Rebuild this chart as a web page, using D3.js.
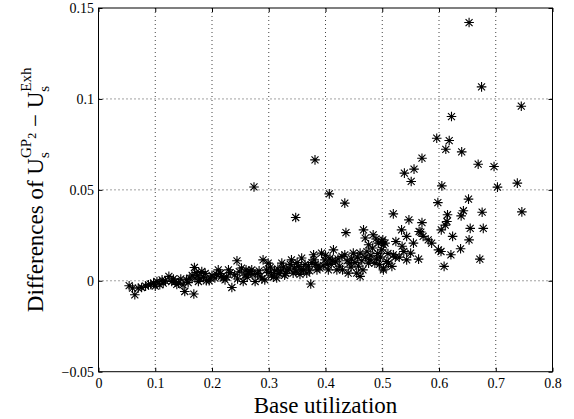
<!DOCTYPE html>
<html>

<head>
  <meta charset="UTF-8">
  <title>Differences vs base utilization</title>
  <style>
    body { margin: 0; background: #fff; }
    svg { display: block; font-family: 'Liberation Serif', 'Times New Roman', serif; }
    .tick line { stroke: #000; }
    .grid line { stroke: #444; stroke-dasharray: 1, 3; }
  </style>
</head>

<body>
  <script src="https://cdn.jsdelivr.net/npm/d3@7"></script>
  <script>
    const width = 574,
      height = 419

    // base utilization (x) and difference (y)
    const utilization = [
      0.054, 0.060, 0.064, 0.070, 0.076, 0.083, 0.088, 0.092, 0.097, 0.103,
      0.108, 0.114, 0.118, 0.124, 0.129, 0.135, 0.141, 0.145, 0.149, 0.152,
      0.155, 0.158, 0.161, 0.168, 0.169, 0.170, 0.175, 0.176, 0.182, 0.185,
      0.190, 0.197, 0.200, 0.205, 0.211, 0.215, 0.217, 0.223, 0.226, 0.229,
      0.235, 0.240, 0.244, 0.245, 0.252, 0.255, 0.258, 0.260, 0.264, 0.267,
      0.270, 0.276, 0.280, 0.285, 0.290, 0.293, 0.299, 0.300, 0.305, 0.310,
      0.314, 0.318, 0.323, 0.328, 0.332, 0.336, 0.340, 0.343, 0.348, 0.352,
      0.355, 0.358, 0.361, 0.367, 0.370, 0.374, 0.376, 0.379, 0.382, 0.385,
      0.390, 0.393, 0.396, 0.399, 0.405, 0.408, 0.410, 0.414, 0.418, 0.420,
      0.425, 0.429, 0.430, 0.434, 0.436, 0.440, 0.443, 0.446, 0.449, 0.452,
      0.455, 0.458, 0.461, 0.461, 0.466, 0.467, 0.470, 0.470, 0.476, 0.476,
      0.480, 0.484, 0.489, 0.487, 0.490, 0.493, 0.495, 0.499, 0.499, 0.501,
      0.502, 0.502, 0.502, 0.505, 0.508, 0.510, 0.511, 0.517, 0.5195, 0.5195,
      0.523, 0.524, 0.530, 0.534, 0.535, 0.538, 0.543, 0.543, 0.547, 0.550,
      0.555, 0.564, 0.565, 0.568, 0.570, 0.572, 0.581, 0.587, 0.599, 0.6035,
      0.604, 0.609, 0.611, 0.614, 0.615, 0.621, 0.624, 0.638, 0.639, 0.643,
      0.653, 0.655, 0.672, 0.678, 0.676, 0.746, 0.598, 0.652, 0.703, 0.738,
      0.605, 0.551, 0.556, 0.539, 0.697, 0.669, 0.570, 0.640, 0.612, 0.618,
      0.596, 0.622, 0.745, 0.675, 0.653, 0.3475, 0.4067, 0.434, 0.274, 0.3815,
      0.100, 0.112, 0.132, 0.138, 0.165, 0.172, 0.179, 0.188, 0.195, 0.208,
      0.220, 0.232, 0.248, 0.262, 0.272, 0.283, 0.288, 0.296, 0.303, 0.308,
      0.316, 0.321, 0.326, 0.330, 0.338, 0.345, 0.350, 0.357, 0.364, 0.372,
      0.380, 0.387, 0.400, 0.403, 0.412, 0.422, 0.438, 0.445, 0.456, 0.464,
      0.473, 0.478, 0.483, 0.492, 0.497
    ]
    const difference = [
      -0.0027, -0.0040, -0.0077, -0.0040, -0.0037, -0.0030, -0.0022, -0.0020, -0.0013, -0.0004,
      -0.0022, -0.0013, 0.0000, 0.0024, -0.0004, -0.0004, -0.0013, 0.0010, -0.0022, -0.0059,
      0.0005, -0.0010, 0.0015, -0.0073, 0.0073, 0.0015, 0.0030, -0.0004, 0.0051, 0.0020,
      0.0000, 0.0015, 0.0030, 0.0015, 0.0060, 0.0040, 0.0024, 0.0005, 0.0020, 0.0060,
      -0.0037, 0.0033, 0.0110, 0.0010, 0.0070, -0.0004, 0.0030, 0.0060, 0.0042, 0.0051,
      0.0060, -0.0004, 0.0040, 0.0025, 0.0115, 0.0005, 0.0097, 0.0045, 0.0030, 0.0055,
      0.0015, 0.0040, 0.0097, 0.0030, 0.0060, 0.0065, 0.0115, 0.0042, 0.0050, 0.0079,
      0.0035, 0.0125, 0.0060, 0.0042, 0.0080, -0.0018, 0.0100, 0.0143, 0.0090, 0.0060,
      0.0070, 0.0152, 0.0085, 0.0115, 0.0060, 0.0125, 0.0090, 0.0170, 0.0105, 0.0060,
      0.0080, 0.0134, 0.0060, 0.0143, 0.0265, 0.0042, 0.0097, 0.0120, 0.0152, 0.0100,
      0.0042, 0.0080, 0.0152, 0.0024, 0.0060, 0.0280, 0.0235, 0.0130, 0.0198, 0.0097,
      0.0140, 0.0253, 0.0230, 0.0097, 0.0120, 0.0207, 0.0090, 0.0170, 0.0216, 0.0225,
      0.0060, 0.0198, 0.0070, 0.0207, 0.0106, 0.0150, 0.0097, 0.0079, 0.0143, 0.0368,
      0.0130, 0.0216, 0.0130, 0.0280, 0.0190, 0.0161, 0.0115, 0.0244, 0.0335, 0.0152,
      0.0207, 0.0119, 0.0271, 0.0268, 0.0320, 0.0244, 0.0225, 0.0207, 0.0170, 0.0161,
      0.0280, 0.0079, 0.0306, 0.0326, 0.0363, 0.0143, 0.0244, 0.0176, 0.0357, 0.0385,
      0.0225, 0.0288, 0.0119, 0.0288, 0.0377, 0.0379, 0.0430, 0.0449, 0.0515, 0.0537,
      0.0522, 0.0546, 0.0614, 0.0592, 0.0628, 0.0641, 0.0674, 0.0709, 0.0723, 0.0771,
      0.0784, 0.0903, 0.0960, 0.1066, 0.1420, 0.0348, 0.0478, 0.0427, 0.0516, 0.0665,
      -0.0030, 0.0005, 0.0010, -0.0020, 0.0030, 0.0045, 0.0010, 0.0040, 0.0000, 0.0035,
      0.0015, 0.0045, 0.0050, 0.0020, 0.0035, 0.0055, 0.0010, 0.0060, 0.0075, 0.0020,
      0.0065, 0.0050, 0.0075, 0.0040, 0.0090, 0.0070, 0.0100, 0.0060, 0.0090, 0.0055,
      0.0115, 0.0080, 0.0140, 0.0090, 0.0110, 0.0120, 0.0110, 0.0075, 0.0130, 0.0110,
      0.0160, 0.0115, 0.0180, 0.0150, 0.0130
    ]

    const xTicks = [0, 0.1, 0.2, 0.3, 0.4, 0.5, 0.6, 0.7, 0.8]
    const xTickLabels = ['0', '0.1', '0.2', '0.3', '0.4', '0.5', '0.6', '0.7', '0.8']
    const yTicks = [-0.05, 0, 0.05, 0.1, 0.15]
    const yTickLabels = ['\u22120.05', '0', '0.05', '0.1', '0.15']

    const plotL = 98.5, plotR = 552.5, plotT = 8, plotB = 371.7

    const svg = d3.select('body')
      .append('svg')
      .attr('width', width)
      .attr('height', height)

    const xScale = d3.scaleLinear()
      .domain([0, 0.8])
      .range([plotL, plotR])

    const yScale = d3.scaleLinear()
      .domain([-0.05, 0.15])
      .range([plotB, plotT])

    // dotted grid
    const grid = svg.append('g').classed('grid', true)
    grid.selectAll('line.gx')
      .data(xTicks.slice(1, -1)).enter()
      .append('line')
      .attr('x1', d => xScale(d)).attr('x2', d => xScale(d))
      .attr('y1', plotT).attr('y2', plotB)
    grid.selectAll('line.gy')
      .data(yTicks.slice(1, -1)).enter()
      .append('line')
      .attr('x1', plotL).attr('x2', plotR)
      .attr('y1', d => yScale(d)).attr('y2', d => yScale(d))

    // axes, ticks pointing inward
    const fmtX = d => xTickLabels[xTicks.indexOf(d)]
    const fmtY = d => yTickLabels[yTicks.indexOf(d)]

    const axes = svg.append('g').classed('axes', true)
    axes.append('g')
      .attr('transform', `translate(0, ${plotB})`)
      .call(d3.axisBottom(xScale).tickValues(xTicks).tickFormat(fmtX)
        .tickSizeInner(-4).tickSizeOuter(0).tickPadding(6.5))
    axes.append('g')
      .attr('transform', `translate(0, ${plotT})`)
      .call(d3.axisTop(xScale).tickValues(xTicks).tickFormat('')
        .tickSizeInner(-4).tickSizeOuter(0))
    axes.append('g')
      .attr('transform', `translate(${plotL}, 0)`)
      .call(d3.axisLeft(yScale).tickValues(yTicks).tickFormat(fmtY)
        .tickSizeInner(-4).tickSizeOuter(0).tickPadding(4.5))
    axes.append('g')
      .attr('transform', `translate(${plotR}, 0)`)
      .call(d3.axisRight(yScale).tickValues(yTicks).tickFormat('')
        .tickSizeInner(-4).tickSizeOuter(0))

    axes.selectAll('.domain').remove()
    axes.selectAll('.tick text')
      .style('font-family', "'Liberation Serif', 'Times New Roman', serif")
      .style('font-size', '14px')
      .style('fill', '#000')

    svg.append('rect')
      .attr('x', plotL).attr('y', plotT)
      .attr('width', plotR - plotL).attr('height', plotB - plotT)
      .attr('fill', 'none').attr('stroke', '#000')

    // asterisk markers
    const r = 4.8, q = 3.5
    const star = `M${-r},0L${r},0M0,${-r}L0,${r}M${-q},${-q}L${q},${q}M${-q},${q}L${q},${-q}`
    const points = utilization.map((u, i) => ({ x: u, y: difference[i] }))

    svg.append('g')
      .selectAll('path')
      .data(points).enter()
      .append('path')
      .attr('d', star)
      .attr('transform', d => `translate(${xScale(d.x)}, ${yScale(d.y)})`)
      .attr('fill', 'none')
      .attr('stroke', '#000')
      .attr('stroke-width', 1.1)

    // axis labels
    svg.append('text')
      .attr('x', (plotL + plotR) / 2)
      .attr('y', 413)
      .attr('text-anchor', 'middle')
      .attr('font-size', 23)
      .text('Base utilization')

    const yl = svg.append('text')
      .attr('transform', `translate(43, ${(plotT + plotB) / 2}) rotate(-90)`)
      .attr('text-anchor', 'middle')
      .attr('font-size', 23)

    yl.append('tspan').text('Differences of U')
    const s1 = yl.append('tspan').attr('font-size', 15).attr('dy', 6).text('s')
    const sw = s1.node().getComputedTextLength()
    yl.append('tspan').attr('font-size', 15).attr('dx', -sw).attr('dy', -18).text('GP')
    yl.append('tspan').attr('font-size', 12).attr('dy', 5).text('2')
    yl.append('tspan').attr('dy', 7).text(' \u2212 U')
    yl.append('tspan').attr('font-size', 15).attr('dy', 6).text('s')
    yl.append('tspan').attr('font-size', 15).attr('dx', -sw).attr('dy', -18).text('Exh')
  </script>
</body>

</html>
